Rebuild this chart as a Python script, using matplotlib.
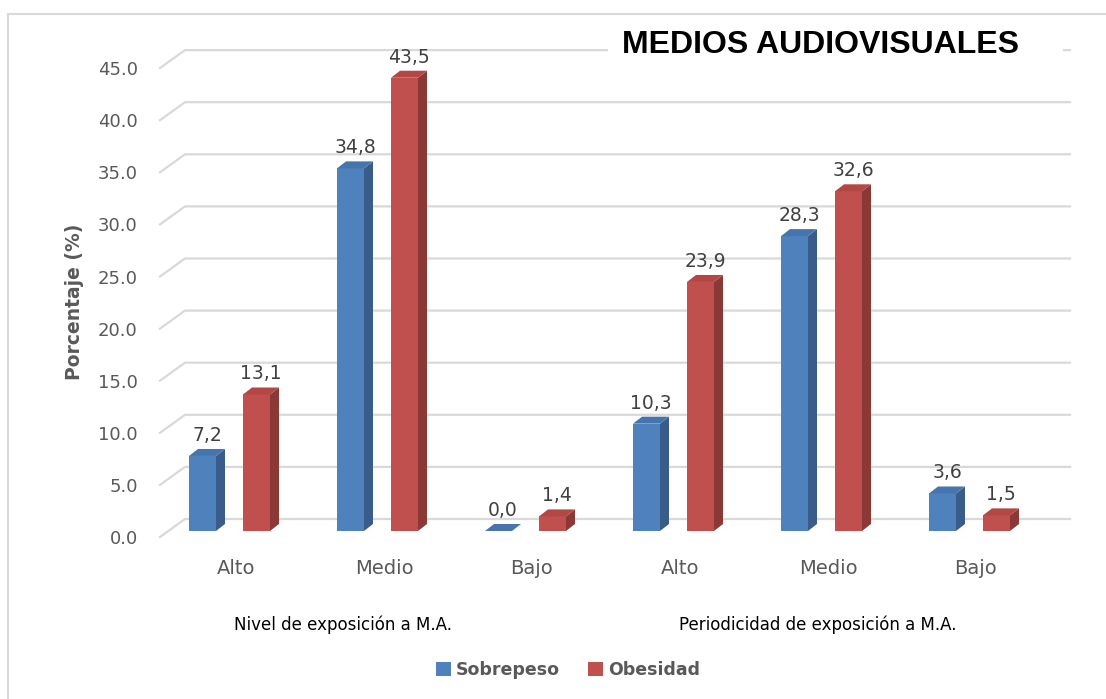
import matplotlib
matplotlib.use("Agg")
import matplotlib.pyplot as plt
from matplotlib.patches import Polygon, Rectangle
from matplotlib.lines import Line2D
from matplotlib.transforms import ScaledTranslation, blended_transform_factory

# ---- data -------------------------------------------------------------
categories = ["Alto", "Medio", "Bajo", "Alto", "Medio", "Bajo"]
groups = ["Nivel de exposición a M.A.", "Periodicidad de exposición a M.A."]
sobrepeso = [7.2, 34.8, 0.0, 10.3, 28.3, 3.6]
obesidad = [13.1, 43.5, 1.4, 23.9, 32.6, 1.5]
series_names = ["Sobrepeso", "Obesidad"]
yticks = [0, 5, 10, 15, 20, 25, 30, 35, 40, 45]

# ---- style ------------------------------------------------------------
FACE = {"Sobrepeso": "#4F81BD", "Obesidad": "#C0504D"}
SIDE = {"Sobrepeso": "#385D8A", "Obesidad": "#8C3836"}
TOP = {"Sobrepeso": "#4675AE", "Obesidad": "#B34744"}
GRID = "#D9D9D9"
TXT = "#595959"
FONT = "DejaVu Sans"

W, H = 1106, 699
fig = plt.figure(figsize=(W / 100, H / 100), dpi=100)
fig.patch.set_facecolor("white")

# plot area in pixels
L_PX, R_PX, T_PX, B_PX = 160, 1070, 30, 545
ax = fig.add_axes([L_PX / W, 1 - B_PX / H, (R_PX - L_PX) / W, (B_PX - T_PX) / H])

# scale: one category = 148 px, one percent = 10.42 px
PX_PER_CAT = 148.0
PX_PER_UNIT = 10.42
X0_PX, Y0_PX = 229.0, 537.0
ax.set_xlim((L_PX - X0_PX) / PX_PER_CAT, (R_PX - X0_PX) / PX_PER_CAT)
ax.set_ylim((Y0_PX - B_PX) / PX_PER_UNIT, (Y0_PX - T_PX) / PX_PER_UNIT)


def px_x(p):
    return p / PX_PER_CAT


def px_y(p):
    return p / PX_PER_UNIT


for s in ax.spines.values():
    s.set_visible(False)
ax.set_facecolor("none")

# back wall gridlines with perspective step
xmin, xmax = ax.get_xlim()
depth_dx, depth_dy = px_x(25), px_y(18)
for v in yticks:
    ax.add_line(Line2D([xmin, xmin + depth_dx, xmax], [v, v + depth_dy, v + depth_dy],
                       color=GRID, lw=1.6, zorder=1, clip_on=False))

# 3D-looking bars
bar_w = px_x(27)
side_dx, side_dy = px_x(9), px_y(7)
base = px_y(6)
offsets = {"Sobrepeso": px_x(-40), "Obesidad": px_x(14)}
values = {"Sobrepeso": sobrepeso, "Obesidad": obesidad}

for name in series_names:
    for i, v in enumerate(values[name]):
        x0 = i + offsets[name]
        x1 = x0 + bar_w
        y0, y1 = base, base + v
        front = [(x0, y0), (x1, y0), (x1, y1), (x0, y1)]
        side = [(x1, y0), (x1 + side_dx, y0 + side_dy), (x1 + side_dx, y1 + side_dy), (x1, y1)]
        top = [(x0, y1), (x1, y1), (x1 + side_dx, y1 + side_dy), (x0 + side_dx, y1 + side_dy)]
        if v > 0:
            ax.add_patch(Polygon(front, closed=True, fc=FACE[name], ec="none", zorder=3))
            ax.add_patch(Polygon(side, closed=True, fc=SIDE[name], ec="none", zorder=3))
        ax.add_patch(Polygon(top, closed=True, fc=TOP[name], ec="none", zorder=3))
        ax.text((x0 + x1 + side_dx) / 2, y1 + side_dy + px_y(4), f"{v:.1f}".replace(".", ","),
                ha="center", va="bottom", fontsize=13.5, color="#404040", family=FONT, zorder=5)

# axes ticks
ax.set_yticks(yticks)
ax.set_yticklabels([f"{t:.1f}" for t in yticks], fontsize=13, color=TXT, family=FONT)
ax.tick_params(axis="y", length=0, pad=16)
ax.set_xticks(range(len(categories)))
ax.set_xticklabels(categories, fontsize=14, color=TXT, family=FONT)
ax.tick_params(axis="x", length=0, pad=10)
shift = ScaledTranslation(7 / 100, 0, fig.dpi_scale_trans)
for lab in ax.get_xticklabels():
    lab.set_transform(lab.get_transform() + shift)

# group captions under the categories
btr = blended_transform_factory(ax.transData, fig.transFigure)
ax.text(px_x(343 - X0_PX), 1 - 625 / H, groups[0], transform=btr, ha="center", va="center",
        fontsize=12, color="black", family=FONT)
ax.text(px_x(818 - X0_PX), 1 - 625 / H, groups[1], transform=btr, ha="center", va="center",
        fontsize=12, color="black", family=FONT)

# axis title
fig.text(74 / W, 1 - 302 / H, "Porcentaje (%)", rotation=90, ha="center", va="center",
         fontsize=13.5, fontweight="bold", color=TXT, family=FONT)

# chart title, drawn over a white band that hides the top gridline
fig.add_artist(Rectangle((608 / W, 1 - 68 / H), (1063 - 608) / W, 44 / H,
                         transform=fig.transFigure, fc="white", ec="none", zorder=9))
fig.text(820 / W, 1 - 45 / H, "MEDIOS AUDIOVISUALES", ha="center", va="center",
         fontsize=23, fontweight="bold", color="black", family="Liberation Sans", zorder=10)

# legend
handles = [Rectangle((0, 0), 1, 1, fc=FACE[n], ec="none") for n in series_names]
leg = fig.legend(handles, series_names, loc="center", bbox_to_anchor=(568 / W, 1 - 670 / H),
                 ncol=2, frameon=False, handlelength=0.85, handleheight=0.85,
                 handletextpad=0.3, columnspacing=1.6,
                 prop={"family": FONT, "weight": "bold", "size": 12.5})
for t in leg.get_texts():
    t.set_color(TXT)

# chart frame
fig.add_artist(Rectangle((8 / W, -0.02), 1.0, 1 - 14 / H + 0.02, transform=fig.transFigure,
                         fill=False, ec=GRID, lw=1.5))

fig.savefig("out.png", dpi=100, facecolor="white")
